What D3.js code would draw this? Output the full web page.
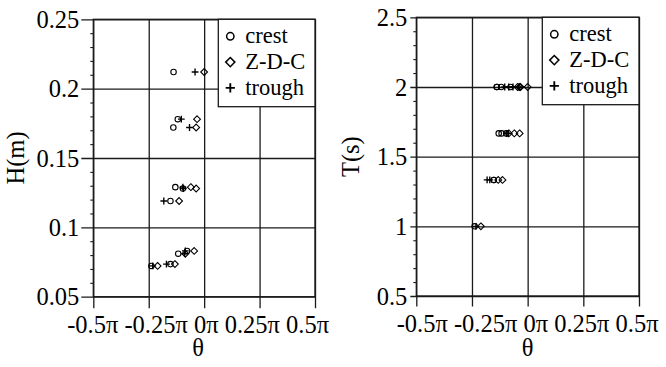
<!DOCTYPE html>
<html><head><meta charset="utf-8">
<script src="https://cdn.jsdelivr.net/npm/d3@7"></script>
</head>
<body style="margin:0;background:#fff"><svg id="fig" width="666" height="367" style="display:block"></svg>
<script>
// Wave conditions: height H (m), period T (s) and phase angle θ (in units of π)
// measured at the crest, the zero-down-crossing and the trough.
const waveH = [0.212, 0.178, 0.172, 0.083, 0.129, 0.128, 0.081, 0.119, 0.0735, 0.0722];
const waveT = [2.0, 2.0, 2.0, 2.0, 1.667, 1.667, 1.667, 1.333, 1.333, 1.0];
const thetaCrest  = [-0.138, -0.119, -0.139, -0.077, -0.130, -0.096, -0.117, -0.152, -0.152, -0.238];
const thetaZDC    = [ 0.000, -0.032, -0.036, -0.045, -0.060, -0.036, -0.085, -0.113, -0.132, -0.210];
const thetaTrough = [-0.041, -0.103, -0.066, -0.085, -0.096, -0.094, -0.088, -0.182, -0.170, -0.232];

const thetaTicks = [-0.5, -0.25, 0, 0.25, 0.5];
const thetaTickLabels = ["-0.5π", "-0.25π", "0π", "0.25π", "0.5π"];
const hTicks = [0.05, 0.1, 0.15, 0.2, 0.25];
const hTickLabels = ["0.05", "0.1", "0.15", "0.2", "0.25"];
const tTicks = [0.5, 1, 1.5, 2, 2.5];
const tTickLabels = ["0.5", "1", "1.5", "2", "2.5"];
const seriesNames = ["crest", "Z-D-C", "trough"];
const seriesTheta = [thetaCrest, thetaZDC, thetaTrough];

const svg = d3.select("#fig");
const FONT = 24.5;

const symbolPath = {
  "Z-D-C": s => `M0,${-s}L${s},0L0,${s}L${-s},0Z`,
  trough: s => `M${-s},0H${s}M0,${-s}V${s}`
};

function drawMarker(g, name, x, y, s, w) {
  if (name === "crest") {
    g.append("circle").attr("cx", x).attr("cy", y).attr("r", s * 0.8)
      .attr("fill", "none").attr("stroke", "#000").attr("stroke-width", w);
  } else {
    g.append("path").attr("transform", `translate(${x},${y})`)
      .attr("d", symbolPath[name](s))
      .attr("fill", "none").attr("stroke", "#000").attr("stroke-width", name === "trough" ? w * 1.25 : w);
  }
}

function label(g, size) {
  return g.append("text").style("font-family", "'Liberation Serif'").attr("font-size", size);
}

function panel(cfg) {
  const x = d3.scaleLinear().domain([-0.5, 0.5]).range([cfg.left, cfg.right]);
  const y = d3.scaleLinear().domain(cfg.yDomain).range([cfg.bottom, cfg.top]);
  const g = svg.append("g");
  const lineCol = "#1a1a1a";

  // minor ticks on the y axis
  g.append("g").attr("transform", `translate(${cfg.left},0)`)
    .call(d3.axisLeft(y).tickValues(cfg.minor).tickSize(3).tickFormat(""))
    .call(a => a.select(".domain").remove())
    .selectAll("line").attr("stroke", lineCol).attr("stroke-width", 1.1);

  // horizontal grid lines, extended outward as major ticks
  g.append("g").attr("transform", `translate(${cfg.right},0)`)
    .call(d3.axisLeft(y).tickValues(cfg.yTicks).tickSize(cfg.right - cfg.left + cfg.yTickLen).tickFormat(""))
    .call(a => a.select(".domain").remove())
    .selectAll("line").attr("stroke", lineCol).attr("stroke-width", 1.3);

  // vertical grid lines, extended downward as major ticks
  g.append("g").attr("transform", `translate(0,${cfg.top})`)
    .call(d3.axisBottom(x).tickValues(thetaTicks).tickSize(cfg.bottom - cfg.top + cfg.xTickLen).tickFormat(""))
    .call(a => a.select(".domain").remove())
    .selectAll("line").attr("stroke", lineCol).attr("stroke-width", 1.3);

  // frame
  g.append("rect").attr("x", cfg.left).attr("y", cfg.top)
    .attr("width", cfg.right - cfg.left).attr("height", cfg.bottom - cfg.top)
    .attr("fill", "none").attr("stroke", lineCol).attr("stroke-width", 1.3);

  // y tick labels
  cfg.yTicks.forEach((d, i) => {
    label(g, FONT).attr("x", cfg.left - cfg.labelGap).attr("y", y(d)).attr("dy", "0.35em")
      .attr("text-anchor", "end").text(cfg.yLabels[i]);
  });

  // theta tick labels, set as one line of text
  label(g, FONT).attr("x", (cfg.left + cfg.right) / 2 + cfg.xLabShift).attr("y", cfg.bottom + 36)
    .attr("text-anchor", "middle").style("white-space", "pre")
    .text(thetaTickLabels.join(" "));

  // axis titles
  label(g, FONT).attr("x", (cfg.left + cfg.right) / 2 + cfg.xLabShift).attr("y", cfg.bottom + 59.5)
    .attr("text-anchor", "middle").text("θ");
  label(g, FONT).attr("transform", `translate(${cfg.titleX},${(cfg.top + cfg.bottom) / 2}) rotate(-90)`)
    .attr("dy", "0.35em").attr("text-anchor", "middle").text(cfg.yTitle);

  // data points
  const pts = g.append("g");
  seriesNames.forEach((name, k) => {
    seriesTheta[k].forEach((th, i) => {
      drawMarker(pts, name, x(th), y(cfg.yValues[i]), 3.4, 1.1);
    });
  });

  // legend
  const lg = g.append("g");
  const lw = 96.7, lh = 87.4;
  lg.append("rect").attr("x", cfg.right - lw).attr("y", cfg.top).attr("width", lw).attr("height", lh)
    .attr("fill", "#fff").attr("stroke", lineCol).attr("stroke-width", 1.3);
  seriesNames.forEach((name, k) => {
    const by = cfg.top + 24 + k * 25.8;
    drawMarker(lg, name, cfg.right - lw + 12, by - 7, 4.6, 1.5);
    label(lg, 22.5).attr("x", cfg.right - lw + 27).attr("y", by).text(name);
  });
}

panel({
  left: 93.3, right: 315, top: 19.3, bottom: 296.7,
  yDomain: [0.05, 0.25], yTicks: hTicks, yLabels: hTickLabels,
  minor: d3.range(0.06, 0.25, 0.01).filter(v => Math.abs(v * 20 - Math.round(v * 20)) > 1e-6),
  yValues: waveH, yTitle: "H(m)", titleX: 15.5,
  yTickLen: 12, xTickLen: 11.5, labelGap: 14, xLabShift: -6
});

panel({
  left: 416.3, right: 639, top: 17.3, bottom: 296,
  yDomain: [0.5, 2.5], yTicks: tTicks, yLabels: tTickLabels,
  minor: d3.range(0.6, 2.5, 0.1).filter(v => Math.abs(v * 2 - Math.round(v * 2)) > 1e-6),
  yValues: waveT, yTitle: "T(s)", titleX: 350.5,
  yTickLen: 6, xTickLen: 10.5, labelGap: 9, xLabShift: 0
});
</script>
</body></html>
